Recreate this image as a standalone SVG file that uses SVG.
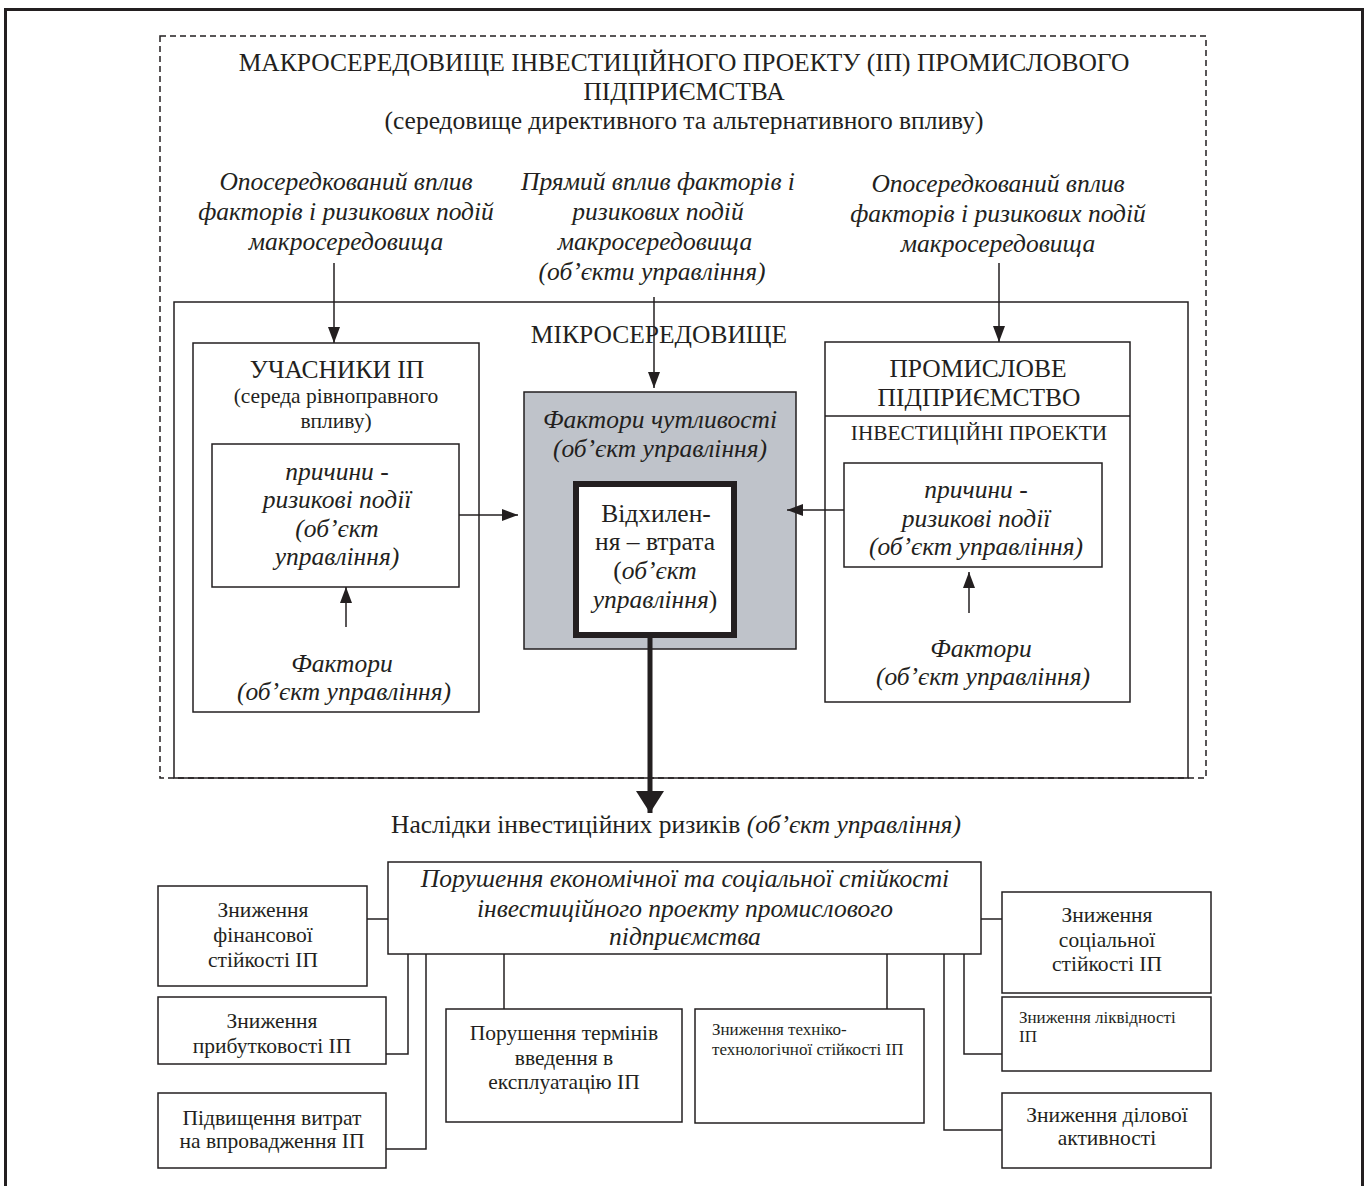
<svg xmlns="http://www.w3.org/2000/svg" width="1367" height="1186" viewBox="0 0 1367 1186">
<defs>
<style>
text{font-family:"Liberation Serif","Times New Roman",serif;fill:#231f20;text-anchor:middle}
.i{font-style:italic}
.box{fill:#fff;stroke:#231f20;stroke-width:1.5}
.ln{fill:none;stroke:#231f20;stroke-width:1.5}
.t24{font-size:25.5px}.t22{font-size:25.5px}.t20{font-size:21.3px}.t18{font-size:21.5px}.t15{font-size:17px}
</style>
<marker id="ah" viewBox="0 0 16 12" refX="16" refY="6" markerWidth="16" markerHeight="12" markerUnits="userSpaceOnUse" orient="auto">
<path d="M0,0 L16,6 L0,12 Z" fill="#231f20"/>
</marker>
<marker id="ahb" viewBox="0 0 22 28" refX="22" refY="14" markerWidth="22" markerHeight="28" markerUnits="userSpaceOnUse" orient="auto">
<path d="M0,0 L22,14 L0,28 Z" fill="#231f20"/>
</marker>
</defs>
<rect width="1367" height="1186" fill="#fff"/>
<rect x="5.5" y="9.5" width="1357" height="1200" fill="none" stroke="#231f20" stroke-width="3"/>

<g id="macro">
<rect x="160" y="36" width="1046" height="742" fill="none" stroke="#231f20" stroke-width="1.5" stroke-dasharray="6,4"/>
<text class="t24" x="684" y="71">МАКРОСЕРЕДОВИЩЕ ІНВЕСТИЦІЙНОГО ПРОЕКТУ (ІП) ПРОМИСЛОВОГО</text>
<text class="t24" x="684" y="100">ПІДПРИЄМСТВА</text>
<text class="t22" x="684" y="129">(середовище директивного та альтернативного впливу)</text>
</g>

<g id="influence-left">
<text class="t22 i" x="346" y="190">Опосередкований вплив</text>
<text class="t22 i" x="346" y="220">факторів і ризикових подій</text>
<text class="t22 i" x="346" y="250">макросередовища</text>
</g>
<g id="influence-center">
<text class="t22 i" x="658" y="190">Прямий вплив факторів і</text>
<text class="t22 i" x="658" y="220">ризикових подій</text>
<text class="t22 i" x="655" y="250">макросередовища</text>
<text class="t22 i" x="652" y="280">(об’єкти управління)</text>
</g>
<g id="influence-right">
<text class="t22 i" x="998" y="192">Опосередкований вплив</text>
<text class="t22 i" x="998" y="222">факторів і ризикових подій</text>
<text class="t22 i" x="998" y="252">макросередовища</text>
</g>

<g id="micro">
<rect x="174" y="302" width="1014" height="476" fill="none" stroke="#231f20" stroke-width="1.5"/>
<text class="t24" x="659" y="343">МІКРОСЕРЕДОВИЩЕ</text>
</g>

<g id="participants">
<rect class="box" x="193" y="343" width="286" height="369"/>
<text class="t24" x="337" y="378">УЧАСНИКИ ІП</text>
<text class="t18" x="336" y="403">(середа рівноправного</text>
<text class="t18" x="336" y="428">впливу)</text>
<rect class="box" x="212" y="444" width="247" height="143"/>
<text class="t22 i" x="337" y="480">причини -</text>
<text class="t22 i" x="337" y="508">ризикові події</text>
<text class="t22 i" x="337" y="537">(об’єкт</text>
<text class="t22 i" x="337" y="565">управління)</text>
<text class="t22 i" x="342" y="672">Фактори</text>
<text class="t22 i" x="344" y="700">(об’єкт управління)</text>
</g>

<g id="sensitivity">
<rect x="524" y="392" width="272" height="257" fill="#bfc3ca" stroke="#231f20" stroke-width="1.5"/>
<text class="t22 i" x="660" y="428">Фактори чутливості</text>
<text class="t22 i" x="660" y="457">(об’єкт управління)</text>
</g>
<g id="deviation">
<rect x="576" y="484" width="158" height="151" fill="#fff" stroke="#231f20" stroke-width="6"/>
<text class="t22" x="656" y="522">Відхилен-</text>
<text class="t22" x="655" y="550">ня – втрата</text>
<text class="t22" x="655" y="579">(<tspan class="i">об’єкт</tspan></text>
<text class="t22" x="655" y="608"><tspan class="i">управління</tspan>)</text>
</g>

<g id="enterprise">
<rect class="box" x="825" y="342" width="305" height="360"/>
<line class="ln" x1="825" y1="416" x2="1130" y2="416"/>
<text class="t24" x="978" y="377">ПРОМИСЛОВЕ</text>
<text class="t24" x="979" y="406">ПІДПРИЄМСТВО</text>
<text class="t20" x="979" y="440">ІНВЕСТИЦІЙНІ ПРОЕКТИ</text>
<rect class="box" x="844" y="463" width="258" height="104"/>
<text class="t22 i" x="976" y="498">причини -</text>
<text class="t22 i" x="976" y="527">ризикові події</text>
<text class="t22 i" x="976" y="555">(об’єкт управління)</text>
<text class="t22 i" x="981" y="657">Фактори</text>
<text class="t22 i" x="983" y="685">(об’єкт управління)</text>
</g>

<g id="consequences">
<text class="t24" x="676" y="833">Наслідки інвестиційних ризиків <tspan class="i">(об’єкт управління)</tspan></text>
</g>
<g id="violation">
<rect class="box" x="388" y="862" width="593" height="92"/>
<text class="t22 i" x="685" y="887">Порушення економічної та соціальної стійкості</text>
<text class="t22 i" x="685" y="917">інвестиційного проекту промислового</text>
<text class="t22 i" x="685" y="945">підприємства</text>
</g>

<g id="fin">
<rect class="box" x="158" y="886" width="209" height="100"/>
<text class="t18" x="263" y="917">Зниження</text>
<text class="t18" x="263" y="942">фінансової</text>
<text class="t18" x="263" y="967">стійкості ІП</text>
</g>
<g id="profit">
<rect class="box" x="158" y="997" width="228" height="67"/>
<text class="t18" x="272" y="1028">Зниження</text>
<text class="t18" x="272" y="1053">прибутковості ІП</text>
</g>
<g id="costs">
<rect class="box" x="158" y="1093" width="228" height="75"/>
<text class="t18" x="272" y="1125">Підвищення витрат</text>
<text class="t18" x="272" y="1148">на впровадження ІП</text>
</g>
<g id="terms">
<rect class="box" x="446" y="1009" width="236" height="113"/>
<text class="t18" x="564" y="1040">Порушення термінів</text>
<text class="t18" x="564" y="1065">введення в</text>
<text class="t18" x="564" y="1089">експлуатацію ІП</text>
</g>
<g id="tech">
<rect class="box" x="695" y="1009" width="229" height="114"/>
<text class="t15" x="712" y="1035" style="text-anchor:start">Зниження техніко-</text>
<text class="t15" x="712" y="1055" style="text-anchor:start">технологічної стійкості ІП</text>
</g>
<g id="social">
<rect class="box" x="1002" y="892" width="209" height="101"/>
<text class="t18" x="1107" y="922">Зниження</text>
<text class="t18" x="1107" y="947">соціальної</text>
<text class="t18" x="1107" y="971">стійкості ІП</text>
</g>
<g id="liquidity">
<rect class="box" x="1002" y="997" width="209" height="74"/>
<text class="t15" x="1019" y="1023" style="text-anchor:start">Зниження ліквідності</text>
<text class="t15" x="1019" y="1042" style="text-anchor:start">ІП</text>
</g>
<g id="business">
<rect class="box" x="1002" y="1093" width="209" height="75"/>
<text class="t18" x="1107" y="1122">Зниження ділової</text>
<text class="t18" x="1107" y="1145">активності</text>
</g>

<g id="connectors">
<line class="ln" x1="334" y1="263" x2="334" y2="343" marker-end="url(#ah)"/>
<line class="ln" x1="654" y1="297" x2="654" y2="388" marker-end="url(#ah)"/>
<line class="ln" x1="999" y1="263" x2="999" y2="342" marker-end="url(#ah)"/>
<line class="ln" x1="459" y1="515" x2="518" y2="515" marker-end="url(#ah)"/>
<line class="ln" x1="844" y1="510" x2="787" y2="510" marker-end="url(#ah)"/>
<line class="ln" x1="346" y1="627" x2="346" y2="587" marker-end="url(#ah)"/>
<line class="ln" x1="969" y1="613" x2="969" y2="572" marker-end="url(#ah)"/>
<line x1="650" y1="638" x2="650" y2="813" stroke="#231f20" stroke-width="5" marker-end="url(#ahb)"/>
<line class="ln" x1="367" y1="919" x2="388" y2="919"/>
<polyline class="ln" points="408,954 408,1054 386,1054"/>
<polyline class="ln" points="426,954 426,1149 386,1149"/>
<line class="ln" x1="504" y1="954" x2="504" y2="1009"/>
<line class="ln" x1="887" y1="954" x2="887" y2="1009"/>
<line class="ln" x1="981" y1="919" x2="1002" y2="919"/>
<polyline class="ln" points="964,954 964,1054 1002,1054"/>
<polyline class="ln" points="944,954 944,1130 1002,1130"/>
</g>
</svg>
